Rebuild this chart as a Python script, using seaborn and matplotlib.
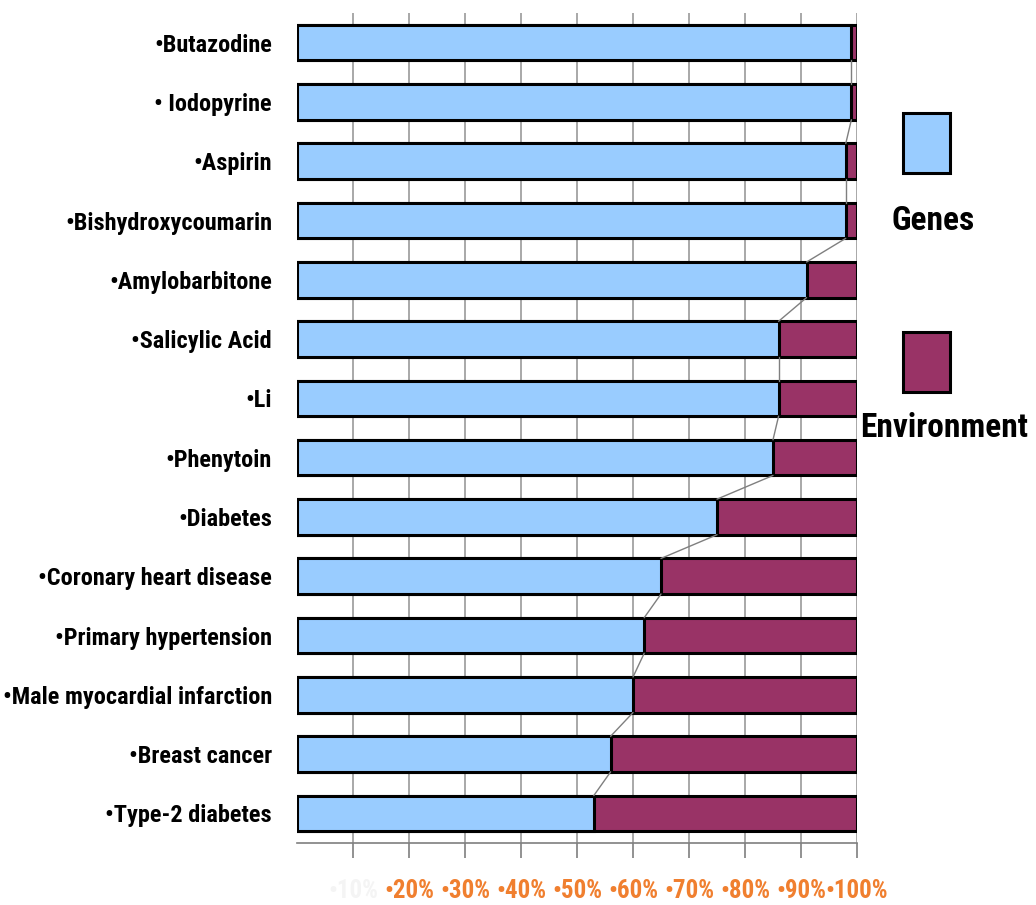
import matplotlib
matplotlib.use("Agg")
import matplotlib.pyplot as plt
from matplotlib.patches import Rectangle
import seaborn as sns
import pandas as pd

# Share of variation attributed to genes vs. environment (%)
categories = [
    "•Butazodine", "• Iodopyrine", "•Aspirin", "•Bishydroxycoumarin",
    "•Amylobarbitone", "•Salicylic Acid", "•Li", "•Phenytoin", "•Diabetes",
    "•Coronary heart disease", "•Primary hypertension",
    "•Male myocardial infarction", "•Breast cancer", "•Type-2 diabetes",
]
genes = [99, 99, 98, 98, 91, 86, 86, 85, 75, 65, 62, 60, 56, 53]
environment = [1, 1, 2, 2, 9, 14, 14, 15, 25, 35, 38, 40, 44, 47]

tick_values = [10, 20, 30, 40, 50, 60, 70, 80, 90, 100]
tick_labels = ["•10%", "•20%", "•30%", "•40%", "•50%", "•60%", "•70%",
               "•80%", "•90%", "•100%"]

GENES_COLOR = "#99CCFF"
ENV_COLOR = "#993366"
TICK_COLOR = "#F07F2F"

sns.set_theme(style="white")
plt.rcParams["font.family"] = ["Roboto Condensed", "DejaVu Sans"]
plt.rcParams["font.weight"] = "bold"

df = pd.DataFrame({"category": categories, "genes": genes, "environment": environment})
df["total"] = df["genes"] + df["environment"]

fig = plt.figure(figsize=(10.36, 9.05), dpi=100)
ax = fig.add_axes([0.2867, 0.0685, 0.5405, 0.9171])

# vertical gridlines behind the bars
ax.set_axisbelow(True)
ax.xaxis.grid(True, color="#9a9a9a", linewidth=1.2)
ax.yaxis.grid(False)

# stacked bars: full bar in the environment colour, genes segment on top
sns.barplot(data=df, x="total", y="category", orient="h", color=ENV_COLOR,
            saturation=1, width=0.6, edgecolor="black", linewidth=2.2, ax=ax)
sns.barplot(data=df, x="genes", y="category", orient="h", color=GENES_COLOR,
            saturation=1, width=0.6, edgecolor="black", linewidth=2.2, ax=ax)

# series lines joining the genes/environment boundaries of neighbouring bars
half = 0.3
for i in range(len(genes) - 1):
    ax.plot([genes[i], genes[i + 1]], [i + half, i + 1 - half],
            color="#7f7f7f", linewidth=1.0, zorder=1.5)

ax.set_xlim(0, 100)
ax.set_ylim(len(categories) - 0.5, -0.5)
ax.set_xlabel("")
ax.set_ylabel("")

ax.set_xticks(tick_values)
ax.set_xticklabels(tick_labels, fontsize=18, fontweight="bold", color=TICK_COLOR)
ax.get_xticklabels()[0].set_color("#f4f4f4")
ax.tick_params(axis="x", which="major", length=11, width=1.2, color="#7f7f7f",
               direction="out", pad=15, bottom=True)
ax.tick_params(axis="y", length=0, pad=18, labelsize=17.5)
for lbl in ax.get_yticklabels():
    lbl.set_fontweight("bold")
    lbl.set_color("black")

for side in ("top", "right", "left"):
    ax.spines[side].set_visible(False)
ax.spines["bottom"].set_color("#7f7f7f")
ax.spines["bottom"].set_linewidth(1.2)

# legend: colour swatches with captions beneath
legend_items = [("Genes", GENES_COLOR, 0.809, 0.9005, 0.756),
                ("Environment", ENV_COLOR, 0.567, 0.9117, 0.527)]
for label, color, y_box, x_text, y_text in legend_items:
    fig.add_artist(Rectangle((0.872, y_box), 0.045, 0.066, transform=fig.transFigure,
                             facecolor=color, edgecolor="black", linewidth=2.2))
    fig.text(x_text, y_text, label, ha="center", va="center", fontsize=24,
             fontweight="bold", color="black")

fig.savefig("out.png", dpi=100, facecolor="white")
